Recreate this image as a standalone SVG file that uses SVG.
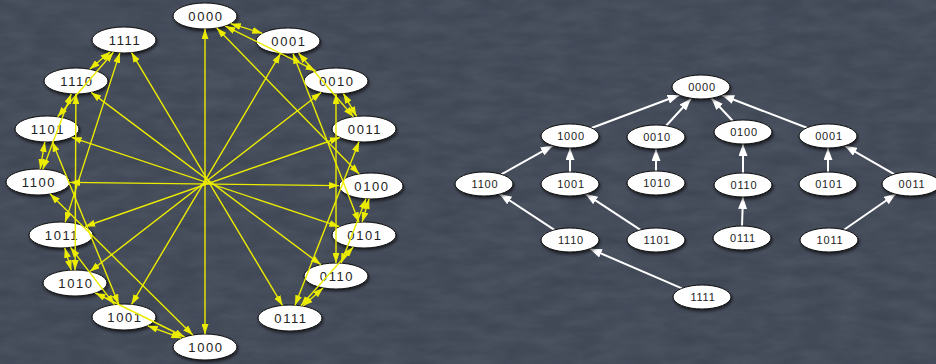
<svg xmlns="http://www.w3.org/2000/svg" width="936" height="364" viewBox="0 0 936 364">
<defs>
<filter id="tex" x="0" y="0" width="100%" height="100%">
<feTurbulence type="fractalNoise" baseFrequency="0.03 0.09" numOctaves="3" seed="7"/>
<feColorMatrix type="matrix" values="0 0 0 0 0.5  0 0 0 0 0.55  0 0 0 0 0.65  0 0 0 0.14 0"/>
<feComposite in2="SourceGraphic" operator="in"/>
</filter>
<filter id="sh" x="-30%" y="-40%" width="160%" height="190%">
<feDropShadow dx="1" dy="2" stdDeviation="1.5" flood-color="#000" flood-opacity="0.6"/>
</filter>
<marker id="ya" viewBox="0 0 10 7" refX="10" refY="3.5" markerWidth="10" markerHeight="7" markerUnits="userSpaceOnUse" orient="auto-start-reverse">
<path d="M0,0 L10,3.5 L0,7 z" fill="#ecec00"/>
</marker>
<marker id="wa" viewBox="0 0 12 9" refX="12" refY="4.5" markerWidth="12" markerHeight="9" markerUnits="userSpaceOnUse" orient="auto">
<path d="M0,0 L12,4.5 L0,9 z" fill="#ffffff"/>
</marker>
</defs>
<style>
.bg{fill:#3c4351}
.nl ellipse{fill:#fff;stroke:#111;stroke-width:1;filter:url(#sh)}
.nl text{font-family:"Liberation Sans",Arial,sans-serif;font-size:13px;letter-spacing:1.6px;fill:#222;text-anchor:middle}
.nr ellipse{fill:#fff;stroke:#111;stroke-width:1;filter:url(#sh)}
.nr text{font-family:"Liberation Sans",Arial,sans-serif;font-size:11px;letter-spacing:0.8px;fill:#222;text-anchor:middle}
.ye line{stroke:#ecec00;stroke-width:1.4;marker-start:url(#ya);marker-end:url(#ya)}
.wh line{stroke:#fff;stroke-width:2;marker-end:url(#wa)}
</style>
<rect class="bg" x="0" y="0" width="936" height="364"/>
<rect x="0" y="0" width="936" height="364" fill="#3c4351" filter="url(#tex)"/>

<g id="left-nodes">
<g id="L0000" class="nl"><ellipse cx="205" cy="16" rx="32" ry="13"/><text x="206" y="20.5">0000</text></g>
<g id="L0001" class="nl"><ellipse cx="288" cy="41" rx="32" ry="13"/><text x="289" y="45.5">0001</text></g>
<g id="L0010" class="nl"><ellipse cx="336" cy="81" rx="32" ry="13"/><text x="337" y="85.5">0010</text></g>
<g id="L0011" class="nl"><ellipse cx="364" cy="129" rx="32" ry="13"/><text x="365" y="133.5">0011</text></g>
<g id="L0100" class="nl"><ellipse cx="371" cy="186" rx="32" ry="13"/><text x="372" y="190.5">0100</text></g>
<g id="L0101" class="nl"><ellipse cx="364" cy="235" rx="32" ry="13"/><text x="365" y="239.5">0101</text></g>
<g id="L0110" class="nl"><ellipse cx="336" cy="276" rx="32" ry="13"/><text x="337" y="280.5">0110</text></g>
<g id="L0111" class="nl"><ellipse cx="290" cy="318" rx="32" ry="13"/><text x="291" y="322.5">0111</text></g>
<g id="L1000" class="nl"><ellipse cx="205" cy="347" rx="32" ry="13"/><text x="206" y="351.5">1000</text></g>
<g id="L1001" class="nl"><ellipse cx="124" cy="317" rx="32" ry="13"/><text x="125" y="321.5">1001</text></g>
<g id="L1010" class="nl"><ellipse cx="75" cy="283" rx="32" ry="13"/><text x="76" y="287.5">1010</text></g>
<g id="L1011" class="nl"><ellipse cx="61" cy="235" rx="32" ry="13"/><text x="62" y="239.5">1011</text></g>
<g id="L1100" class="nl"><ellipse cx="38" cy="182" rx="32" ry="13"/><text x="39" y="186.5">1100</text></g>
<g id="L1101" class="nl"><ellipse cx="47" cy="129" rx="32" ry="13"/><text x="48" y="133.5">1101</text></g>
<g id="L1110" class="nl"><ellipse cx="76" cy="81" rx="32" ry="13"/><text x="77" y="85.5">1110</text></g>
<g id="L1111" class="nl"><ellipse cx="124" cy="40" rx="32" ry="13"/><text x="125" y="44.5">1111</text></g>
</g>

<g id="connectors">
<g class="ye">
<line x1="230.7" y1="23.7" x2="262.3" y2="33.3"/>
<line x1="343.4" y1="93.6" x2="356.6" y2="116.3"/>
<line x1="369.1" y1="199.0" x2="362.1" y2="222.0"/>
<line x1="323.0" y1="287.9" x2="303.0" y2="306.1"/>
<line x1="181.4" y1="338.2" x2="147.7" y2="325.8"/>
<line x1="71.2" y1="270.1" x2="64.8" y2="247.9"/>
<line x1="40.2" y1="169.0" x2="44.8" y2="142.0"/>
<line x1="89.7" y1="69.3" x2="110.3" y2="51.7"/>
<line x1="225.3" y1="26.1" x2="315.7" y2="70.9"/>
<line x1="298.6" y1="53.3" x2="353.4" y2="116.7"/>
<line x1="366.0" y1="198.8" x2="341.0" y2="263.2"/>
<line x1="353.1" y1="247.2" x2="300.9" y2="305.8"/>
<line x1="184.6" y1="337.0" x2="95.4" y2="293.0"/>
<line x1="114.5" y1="304.6" x2="70.5" y2="247.4"/>
<line x1="42.8" y1="169.2" x2="71.2" y2="93.9"/>
<line x1="57.6" y1="116.7" x2="113.4" y2="52.3"/>
<line x1="216.8" y1="28.1" x2="359.2" y2="173.9"/>
<line x1="293.0" y1="53.8" x2="359.0" y2="222.2"/>
<line x1="336" y1="94" x2="336" y2="263"/>
<line x1="359.0" y1="141.8" x2="295.0" y2="305.2"/>
<line x1="192.8" y1="335.0" x2="50.2" y2="194.0"/>
<line x1="118.7" y1="304.2" x2="52.3" y2="141.8"/>
<line x1="75.1" y1="270" x2="75.9" y2="94"/>
<line x1="65.2" y1="222.1" x2="119.8" y2="52.9"/>
<line x1="205" y1="29" x2="205" y2="334"/>
<line x1="280.5" y1="53.6" x2="131.5" y2="304.4"/>
<line x1="321.1" y1="92.5" x2="89.9" y2="271.5"/>
<line x1="339.8" y1="137.5" x2="85.2" y2="226.5"/>
<line x1="339.0" y1="185.6" x2="70.0" y2="182.4"/>
<line x1="339.3" y1="226.7" x2="71.7" y2="137.3"/>
<line x1="320.8" y1="264.6" x2="91.2" y2="92.4"/>
<line x1="282.5" y1="305.4" x2="131.5" y2="52.6"/>
</g>
<g class="wh">
<line x1="591.5" y1="128.0" x2="679.5" y2="95.0"/>
<line x1="666.1" y1="125.8" x2="690.9" y2="98.8"/>
<line x1="732.6" y1="120.8" x2="711.5" y2="98.2"/>
<line x1="806.8" y1="127.8" x2="722.2" y2="95.2"/>
<line x1="501.3" y1="174.4" x2="552.7" y2="145.6"/>
<line x1="570" y1="172" x2="570" y2="148"/>
<line x1="656" y1="171" x2="656" y2="149"/>
<line x1="743" y1="173" x2="743" y2="144"/>
<line x1="828" y1="172" x2="828" y2="148"/>
<line x1="894.1" y1="174.2" x2="844.9" y2="145.8"/>
<line x1="554.4" y1="229.9" x2="499.6" y2="193.9"/>
<line x1="640.4" y1="229.9" x2="585.6" y2="193.9"/>
<line x1="742" y1="226" x2="743" y2="197"/>
<line x1="844.0" y1="229.7" x2="896.0" y2="193.7"/>
<line x1="681.9" y1="288.3" x2="589.9" y2="248.7"/>
</g>
</g>

<g id="right-nodes">
<g id="R0000" class="nr"><ellipse cx="701" cy="87" rx="29" ry="12"/><text x="702" y="91">0000</text></g>
<g id="R1000" class="nr"><ellipse cx="570" cy="136" rx="29" ry="12"/><text x="571" y="140">1000</text></g>
<g id="R0010" class="nr"><ellipse cx="656" cy="137" rx="29" ry="12"/><text x="657" y="141">0010</text></g>
<g id="R0100" class="nr"><ellipse cx="743" cy="132" rx="29" ry="12"/><text x="744" y="136">0100</text></g>
<g id="R0001" class="nr"><ellipse cx="828" cy="136" rx="29" ry="12"/><text x="829" y="140">0001</text></g>
<g id="R1100" class="nr"><ellipse cx="484" cy="184" rx="29" ry="12"/><text x="485" y="188">1100</text></g>
<g id="R1001" class="nr"><ellipse cx="570" cy="184" rx="29" ry="12"/><text x="571" y="188">1001</text></g>
<g id="R1010" class="nr"><ellipse cx="656" cy="183" rx="29" ry="12"/><text x="657" y="187">1010</text></g>
<g id="R0110" class="nr"><ellipse cx="743" cy="185" rx="29" ry="12"/><text x="744" y="189">0110</text></g>
<g id="R0101" class="nr"><ellipse cx="828" cy="184" rx="29" ry="12"/><text x="829" y="188">0101</text></g>
<g id="R0011" class="nr"><ellipse cx="911" cy="184" rx="29" ry="12"/><text x="912" y="188">0011</text></g>
<g id="R1110" class="nr"><ellipse cx="570" cy="240" rx="29" ry="12"/><text x="571" y="244">1110</text></g>
<g id="R1101" class="nr"><ellipse cx="656" cy="240" rx="29" ry="12"/><text x="657" y="244">1101</text></g>
<g id="R0111" class="nr"><ellipse cx="742" cy="238" rx="29" ry="12"/><text x="743" y="242">0111</text></g>
<g id="R1011" class="nr"><ellipse cx="829" cy="240" rx="29" ry="12"/><text x="830" y="244">1011</text></g>
<g id="R1111" class="nr"><ellipse cx="702" cy="297" rx="29" ry="12"/><text x="703" y="301">1111</text></g>
</g>
</svg>
